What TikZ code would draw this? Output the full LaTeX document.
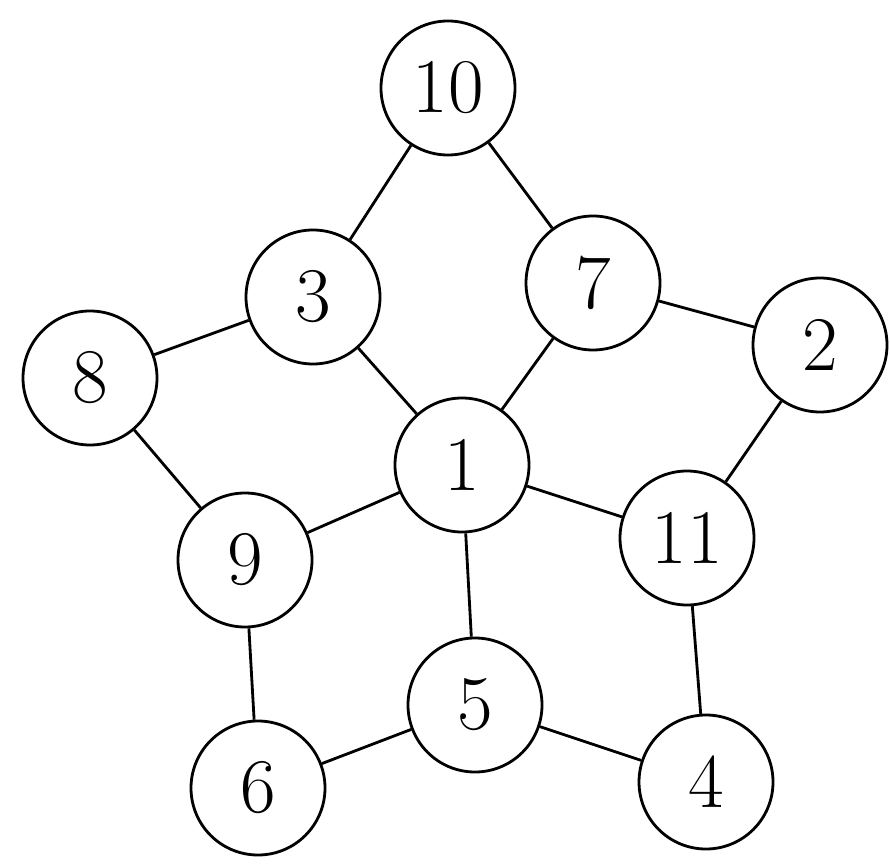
\documentclass[tikz,border=0pt]{standalone}
\usepackage{tikz}
\usetikzlibrary{shapes}

\begin{document}
\begin{tikzpicture}[
  vertex/.style={draw,circle,thick,minimum size=1.34cm,inner sep=0pt,
    font=\fontsize{22}{26}\selectfont}]

\useasboundingbox (0,0) rectangle (8.9,8.63);

% the vertices
\node[vertex] (v10) at (4.48,7.75) {10};
\node[vertex] (v3) at (3.13,5.66) {3};
\node[vertex] (v7) at (5.93,5.80) {7};
\node[vertex] (v8) at (0.90,4.85) {8};
\node[vertex] (v2) at (8.20,5.18) {2};
\node[vertex] (v1) at (4.62,3.98) {1};
\node[vertex] (v9) at (2.45,3.03) {9};
\node[vertex] (v11) at (6.87,3.25) {11};
\node[vertex] (v5) at (4.75,1.58) {5};
\node[vertex] (v6) at (2.58,0.75) {6};
\node[vertex] (v4) at (7.06,0.81) {4};

% the edges
\foreach \a/\b in {10/3, 10/7, 3/8, 3/1, 7/1, 7/2, 2/11, 8/9,
                   9/1, 1/11, 1/5, 9/6, 6/5, 5/4, 11/4}
\draw[thick] (v\a) -- (v\b);
\end{tikzpicture}
\end{document}
